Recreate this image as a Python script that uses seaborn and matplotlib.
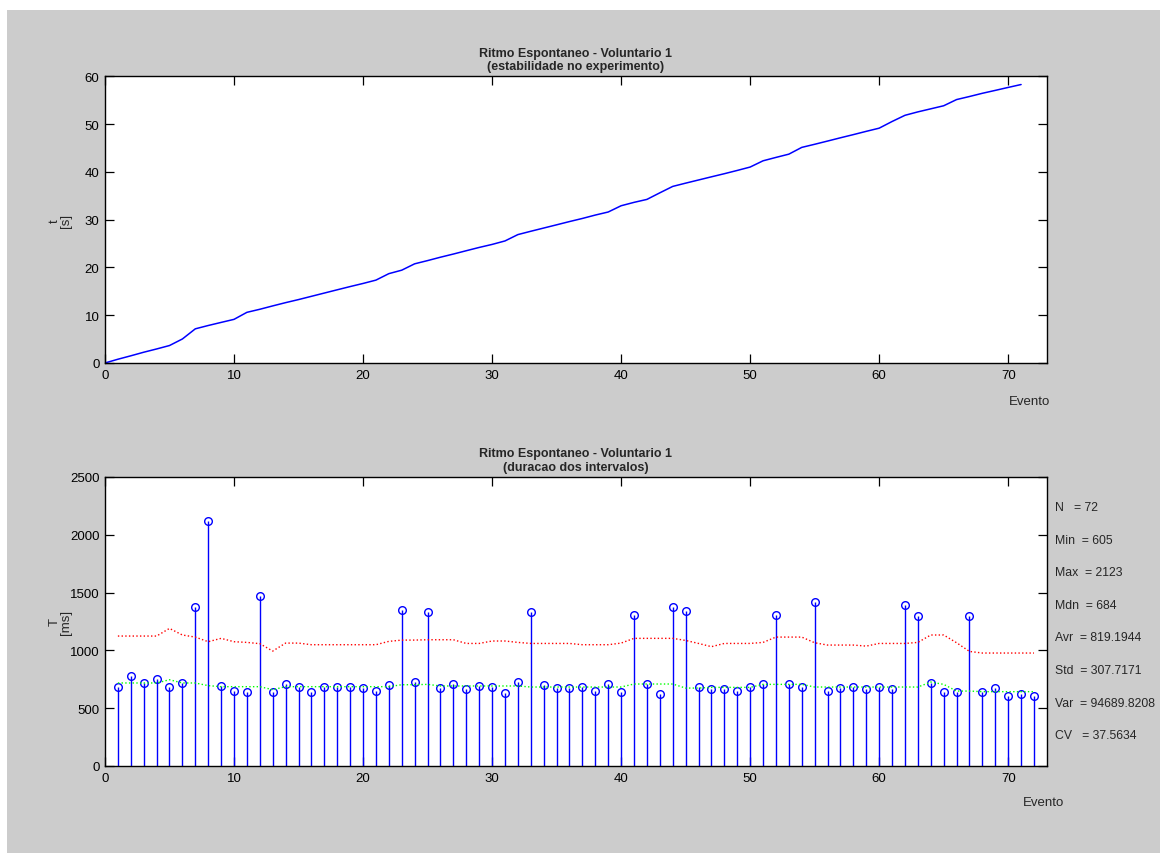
import numpy as np
import pandas as pd
import seaborn as sns
import matplotlib.pyplot as plt
from matplotlib.patches import Rectangle

# duracao dos intervalos (ms), eventos 1..72
intervalos = [683, 781, 718, 749, 683, 720, 1372, 2123, 695, 648,
              640, 1470, 640, 706, 683, 640, 683, 683, 683, 674,
              651, 700, 1352, 729, 1329, 674, 709, 663, 695, 686,
              631, 729, 1329, 697, 674, 674, 683, 651, 709, 640,
              1308, 709, 620, 1375, 1343, 683, 663, 663, 651, 683,
              709, 1308, 709, 683, 1415, 651, 674, 686, 663, 686,
              663, 1395, 1297, 718, 640, 640, 1297, 640, 674, 608,
              620, 605]

# curvas suavizadas (leitura do grafico)
curva_vermelha = [1124, 1124, 1124, 1124, 1190, 1133, 1115, 1075, 1104, 1075,
                  1069, 1058, 994, 1063, 1063, 1049, 1049, 1049, 1049, 1049,
                  1049, 1078, 1089, 1089, 1092, 1092, 1092, 1060, 1060, 1081,
                  1081, 1069, 1060, 1060, 1060, 1060, 1049, 1049, 1049, 1063,
                  1104, 1104, 1104, 1104, 1086, 1060, 1032, 1060, 1060, 1060,
                  1069, 1115, 1115, 1115, 1066, 1046, 1046, 1046, 1037, 1060,
                  1060, 1060, 1069, 1133, 1133, 1066, 991, 977, 977, 977,
                  977, 977]
curva_verde = [718, 718, 718, 718, 746, 718, 718, 695, 686, 686,
               686, 686, 660, 686, 686, 686, 686, 686, 686, 686,
               686, 686, 703, 703, 706, 692, 692, 692, 692, 692,
               692, 692, 683, 683, 683, 683, 683, 683, 683, 683,
               709, 709, 709, 709, 674, 674, 680, 680, 680, 680,
               706, 706, 706, 706, 683, 683, 683, 683, 683, 683,
               683, 683, 683, 726, 706, 648, 648, 643, 643, 643,
               643, 643]

estatisticas = ["N   = 72", "Min  = 605", "Max  = 2123", "Mdn  = 684",
                "Avr  = 819.1944", "Std  = 307.7171", "Var  = 94689.8208",
                "CV   = 37.5634"]

evento = np.arange(1, len(intervalos) + 1)
T = np.array(intervalos)
# tempo acumulado a partir do primeiro evento (s)
t = np.concatenate([[0], np.cumsum(T[1:])]) / 1000.0
df_t = pd.DataFrame({"evento": np.arange(len(t)), "t": t})
df_T = pd.DataFrame({"evento": evento, "T": T,
                     "sup": curva_vermelha, "med": curva_verde})

sns.set_style("ticks")
plt.rcParams["font.family"] = ["Liberation Sans", "DejaVu Sans"]
plt.rcParams["font.size"] = 10

fig = plt.figure(figsize=(11.6, 8.54), dpi=100, facecolor="white")
fig.patches.append(Rectangle((7 / 1160, 0), 1, 1 - 11 / 854, transform=fig.transFigure,
                             facecolor="#cccccc", edgecolor="none", zorder=-10))

ax1 = fig.add_axes([0.0905, 0.5738, 0.812, 0.3357])
ax2 = fig.add_axes([0.0905, 0.1019, 0.812, 0.3384])

for ax in (ax1, ax2):
    ax.set_facecolor("white")
    ax.tick_params(direction="in", top=True, right=True, length=6.5, width=0.9,
                   labelsize=9.5, colors="black", pad=4)
    for s in ax.spines.values():
        s.set_color("black")
        s.set_linewidth(1.0)
    ax.set_xlim(0, 73)
    ax.set_xticks(range(0, 71, 10))

# grafico de cima
sns.lineplot(data=df_t, x="evento", y="t", ax=ax1, color="#0000ff", lw=1.1)
ax1.set_ylim(0, 60)
ax1.set_yticks(range(0, 61, 10))
ax1.set_xlabel("")
ax1.set_ylabel("t\n[s]", fontsize=9.5, linespacing=0.95)
ax1.yaxis.set_label_coords(-0.035, 0.5)
ax1.set_title("Ritmo Espontaneo - Voluntario 1\n(estabilidade no experimento)",
              fontsize=9, fontweight="bold", pad=5, linespacing=1.2)
ax1.text(0.982, -0.132, "Evento", transform=ax1.transAxes, ha="center", va="center", fontsize=9.5)

# grafico de baixo
markerline, stemlines, baseline = ax2.stem(df_T["evento"], df_T["T"], linefmt="-",
                                           markerfmt="o", basefmt=" ")
plt.setp(stemlines, color="#0000ff", lw=1.0)
plt.setp(markerline, markerfacecolor="none", markeredgecolor="#0000ff",
         markersize=5.5, markeredgewidth=1.0)
sns.lineplot(data=df_T, x="evento", y="sup", ax=ax2, color="#ff0000", lw=1.0, linestyle=":")
sns.lineplot(data=df_T, x="evento", y="med", ax=ax2, color="#00ff00", lw=1.0, linestyle=":")
ax2.set_ylim(0, 2500)
ax2.set_yticks(range(0, 2501, 500))
ax2.set_xlabel("")
ax2.set_ylabel("T\n[ms]", fontsize=9.5, linespacing=0.95)
ax2.yaxis.set_label_coords(-0.035, 0.5)
ax2.set_title("Ritmo Espontaneo - Voluntario 1\n(duracao dos intervalos)",
              fontsize=9, fontweight="bold", pad=5, linespacing=1.2)
ax2.text(0.996, -0.125, "Evento", transform=ax2.transAxes, ha="center", va="center", fontsize=9.5)

for i, linha in enumerate(estatisticas):
    y = 1 - (508 + i * 32.6) / 854
    fig.text(1055 / 1160, y, linha, ha="left", va="center", fontsize=8.8)

fig.savefig("out.png", dpi=100, facecolor=fig.get_facecolor())
